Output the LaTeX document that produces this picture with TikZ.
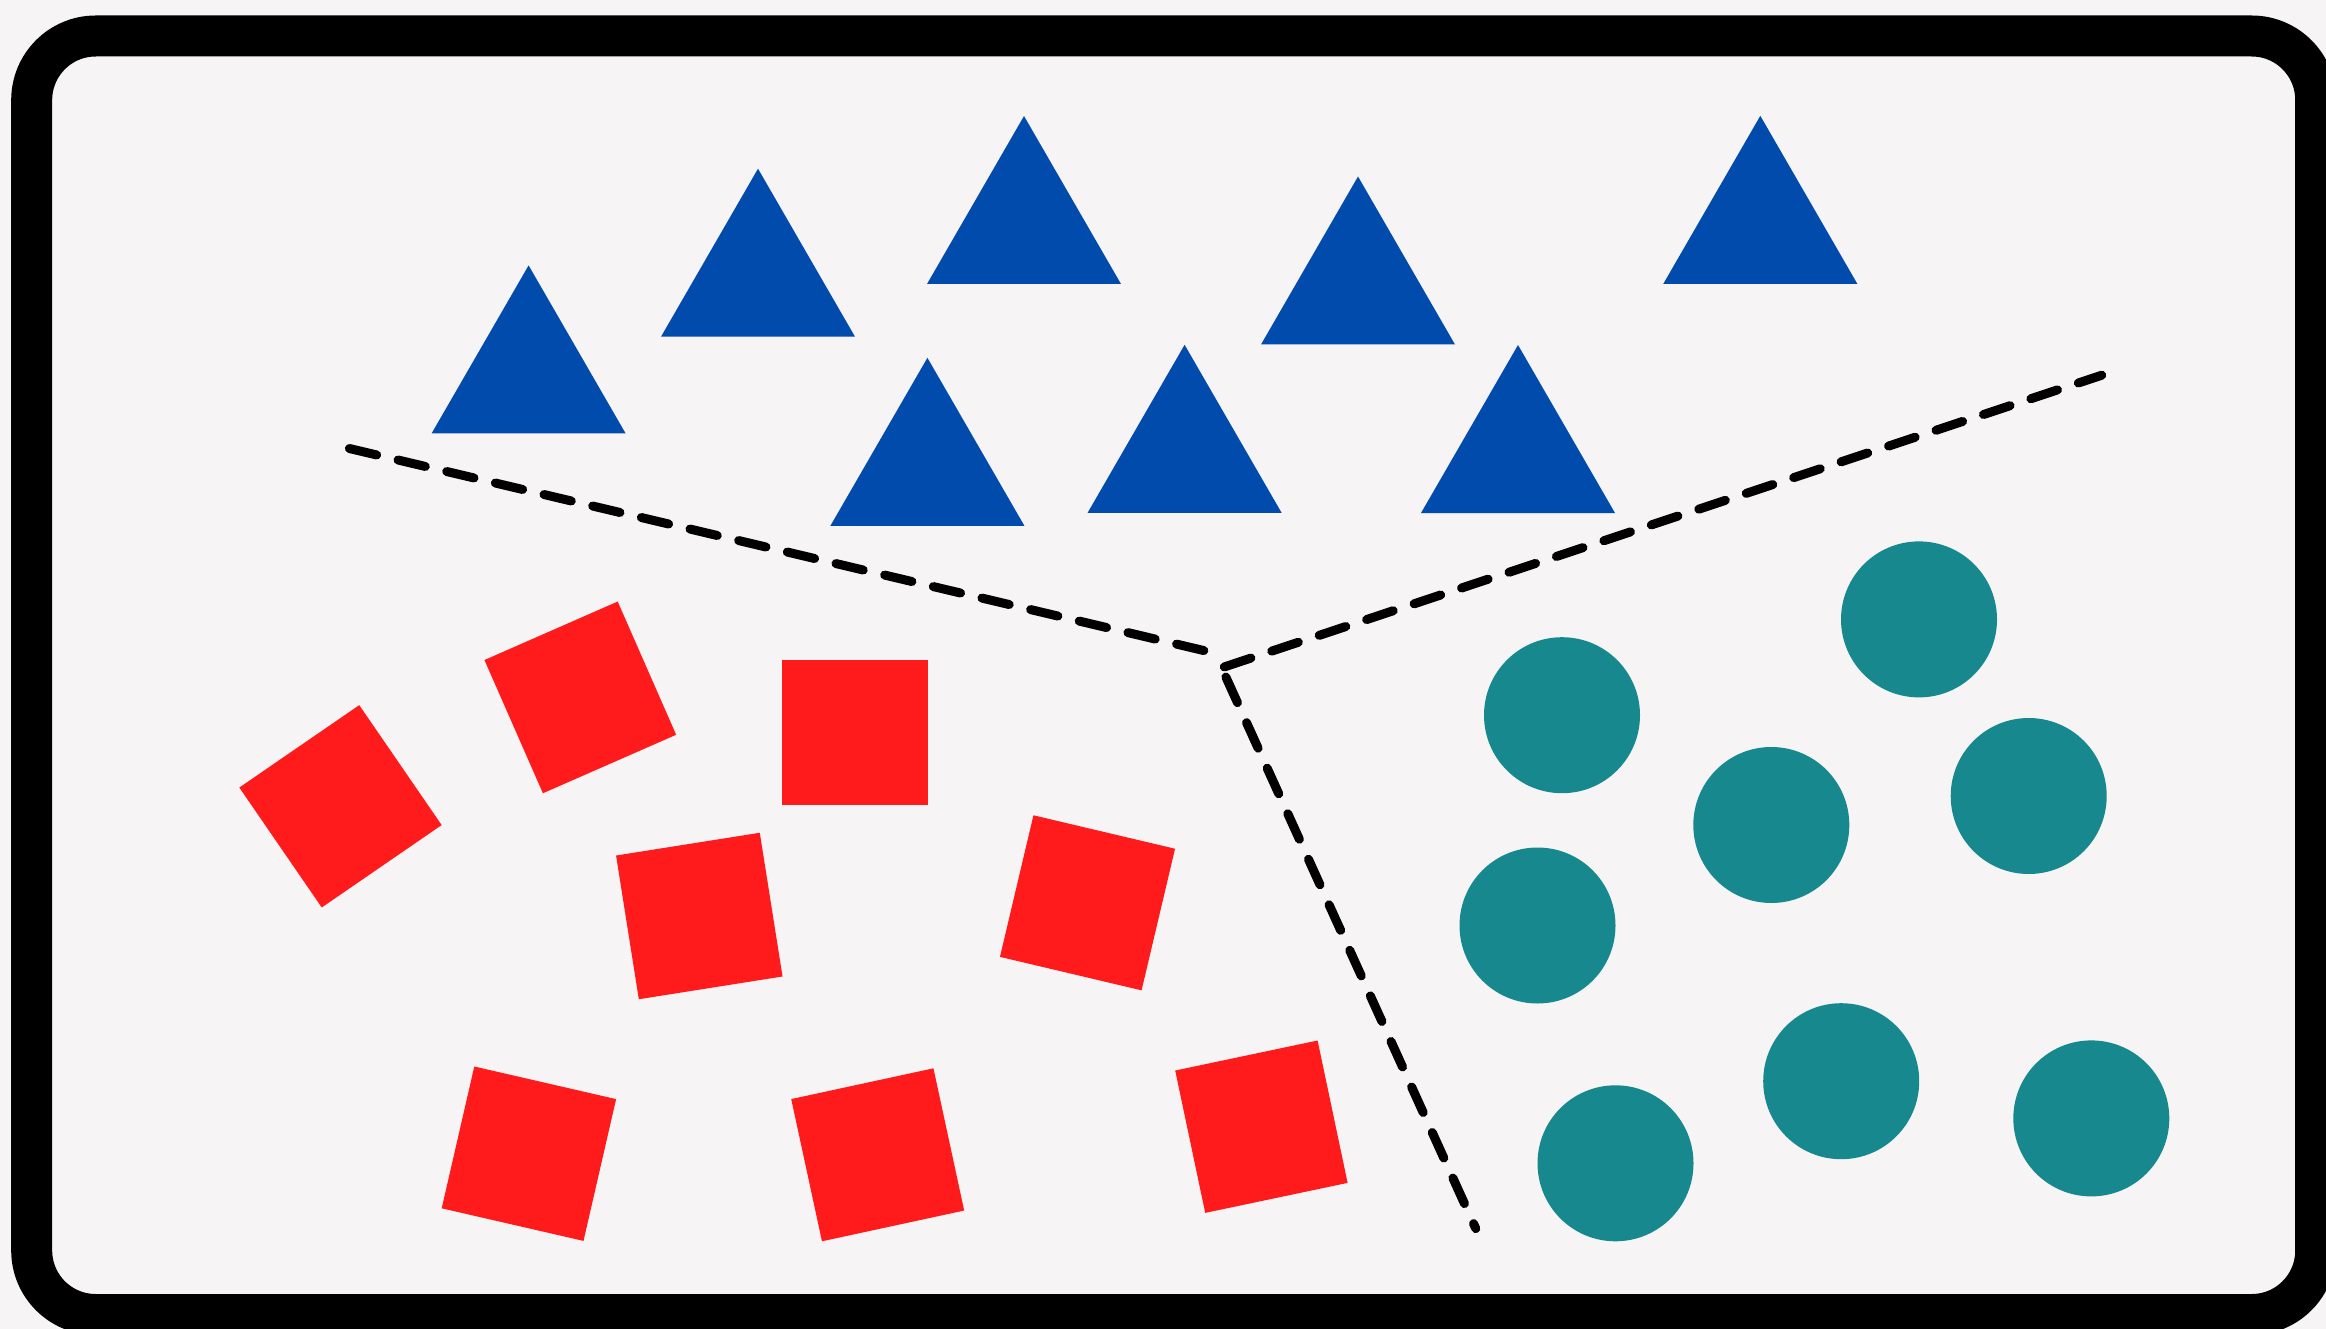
\documentclass[tikz,border=0pt]{standalone}
\usetikzlibrary{shapes.geometric}
\definecolor{paper}{RGB}{246,244,245}
\definecolor{triblue}{RGB}{1,75,173}
\definecolor{boxred}{RGB}{255,26,27}
\definecolor{dotteal}{RGB}{23,137,142}
\tikzset{
  tri/.style={regular polygon, regular polygon sides=3, minimum size=224pt,
              inner sep=0pt, outer sep=0pt, fill=triblue, draw=none},
  sq/.style={rectangle, minimum width=145.5pt, minimum height=145.5pt,
             inner sep=0pt, outer sep=0pt, fill=boxred, draw=none},
  dot/.style={circle, minimum size=156pt, inner sep=0pt, outer sep=0pt,
              fill=dotteal, draw=none},
  divider/.style={line width=9pt, line cap=round, dash pattern=on 28pt off 22pt, black},
  frame/.style={line width=41pt, rounded corners=64pt, draw=black, fill=paper}
}
\begin{document}
\begin{tikzpicture}[x=1pt, y=-1pt]
  % canvas
  \fill[paper] (0,0) rectangle (2326,1329);
  \useasboundingbox (0,0) rectangle (2326,1329);
  \path[frame] (31.7,36) rectangle (2315.7,1314.5);

  % triangles
  \node[tri] (t1) at (528.6,377.4) {};
  \node[tri] (t2) at (758,280.7) {};
  \node[tri] (t3) at (1024,228) {};
  \node[tri] (t4) at (1358,288.5) {};
  \node[tri] (t5) at (927.4,469.8) {};
  \node[tri] (t6) at (1184.6,456.8) {};
  \node[tri] (t7) at (1518,457) {};
  \node[tri] (t8) at (1760.3,227.8) {};

  % squares
  \node[sq, rotate=34.5]  (s1) at (340.5,806.3) {};
  \node[sq, rotate=23.7]  (s2) at (580.3,697.4) {};
  \node[sq]               (s3) at (855,732.5) {};
  \node[sq, rotate=9]     (s4) at (699.3,916) {};
  \node[sq, rotate=-12.95] (s5) at (528.9,1153.7) {};
  \node[sq, rotate=-13.3] (s6) at (1087.5,902.8) {};
  \node[sq, rotate=12.2]  (s7) at (877.7,1154.8) {};
  \node[sq, rotate=11.9]  (s8) at (1261.4,1126.7) {};

  % circles
  \node[dot] (c1) at (1919,619.4) {};
  \node[dot] (c2) at (1562,715.2) {};
  \node[dot] (c3) at (1771.3,825) {};
  \node[dot] (c4) at (2028.7,796) {};
  \node[dot] (c5) at (1537.5,925.5) {};
  \node[dot] (c6) at (1841.2,1081.2) {};
  \node[dot] (c7) at (2091.3,1118.4) {};
  \node[dot] (c8) at (1615.5,1163.3) {};

  % dashed dividers
  \coordinate (leftend)  at (349.4,448.5);
  \coordinate (hubleft)  at (1204,650.6);
  \coordinate (hubright) at (1224.3,666.9);
  \coordinate (rightend) at (2101.7,375.2);
  \coordinate (hubdown)  at (1225.9,677.1);
  \coordinate (downend)  at (1475.8,1228.6);
  \draw[divider] (leftend) -- (hubleft);
  \draw[divider] (hubright) -- (rightend);
  \draw[divider] (hubdown) -- (downend);
\end{tikzpicture}
\end{document}
